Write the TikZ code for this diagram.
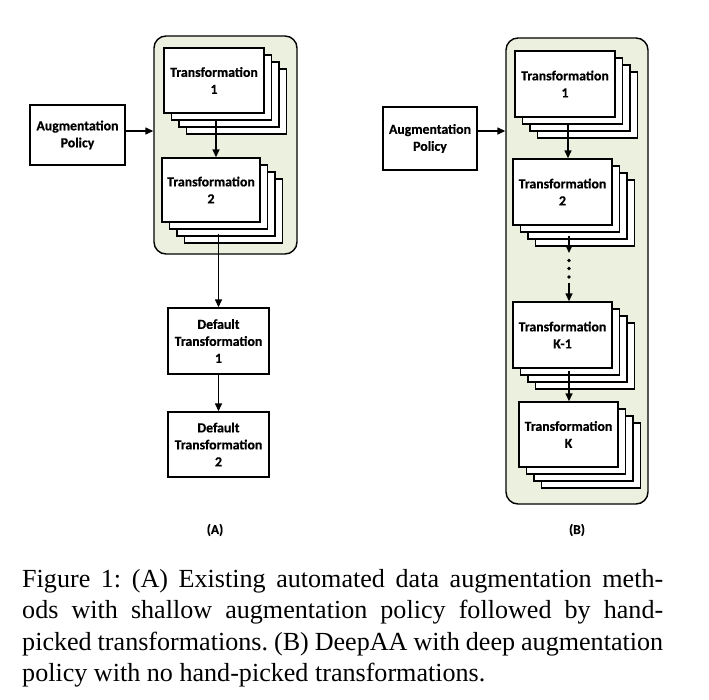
\documentclass[tikz,border=0pt]{standalone}
\usepackage{fontspec}
\setmainfont{Liberation Serif}
\newfontfamily\lblfont{Carlito Bold}[FakeBold=0.6]
\usetikzlibrary{arrows.meta,calc}
\definecolor{grn}{HTML}{EBF1DE}
\tikzset{
  tbox/.style={draw, fill=white, line width=1.4pt, inner sep=0pt, align=center,
    font=\lblfont\fontsize{13.8}{17}\selectfont},
  gbox/.style={draw, fill=grn, line width=1.4pt, rounded corners=12pt, inner sep=0pt},
  arr/.style={-{Triangle[length=8pt,width=7pt]}, line width=1.4pt},
  dotn/.style={circle, fill=black, inner sep=0pt, minimum size=3.8pt},
  panel/.style={font=\lblfont\fontsize{13.5}{15}\selectfont},
  capline/.style={anchor=base west, inner sep=0pt, font=\fontsize{26.1}{31.5}\selectfont\frenchspacing}
}
% name, cx, cy, w, h, text
\newcommand\tstack[6]{%
  \foreach \k in {3,2,1}{%
    \node[tbox, minimum width=#4pt, minimum height=#5pt] (#1-\k) at (#2+7.5*\k, #3+7*\k) {};
  }%
  \node[tbox, minimum width=#4pt, minimum height=#5pt] (#1) at (#2,#3) {#6};%
}
\begin{document}
\begin{tikzpicture}[x=1pt,y=-1pt]
\useasboundingbox (0,0) rectangle (709,699);

% green containers
\node[gbox, minimum width=143pt, minimum height=218pt] (GA) at (225.5,145) {};
\node[gbox, minimum width=142pt, minimum height=466pt] (GB) at (577,271) {};

% helper coordinates
\coordinate (ya) at (0,131);
\coordinate (xa1) at (216,0);
\coordinate (xa2) at (218.5,0);
\coordinate (xb1) at (568,0);
\coordinate (xb2) at (569,0);

% panel A
\node[tbox, minimum width=95pt, minimum height=60pt] (APA) at (77.5,135) {Augmentation\\Policy};
\tstack{A1}{214}{80.5}{100}{65}{Transformation\\1}
\tstack{A2}{211}{190}{98}{64}{Transformation\\2}
\node[tbox, minimum width=101pt, minimum height=66pt] (DA1) at (218.5,341) {Default\\Transformation\\1};
\node[tbox, minimum width=101pt, minimum height=65pt] (DA2) at (218.5,444.5) {Default\\Transformation\\2};

\draw[arr] (APA.east |- ya) -- (GA.west |- ya);
\draw[arr] (xa1 |- A1-1.south) -- (xa1 |- A2.north);
\draw[arr] (xa2 |- A2-1.south) ++(0,4) -- (DA1.north);
\draw[arr] (DA1.south) -- (DA2.north);

% panel B
\node[tbox, minimum width=94pt, minimum height=63pt] (APB) at (430,138.5) {Augmentation\\Policy};
\tstack{B1}{565}{84}{100}{66}{Transformation\\1}
\tstack{B2}{562.5}{192}{99}{66}{Transformation\\2}
\tstack{B3}{562.5}{335}{99}{66}{Transformation\\K-1}
\tstack{B4}{568.5}{434.5}{99}{65}{Transformation\\K}

\node[dotn] (d1) at (569,260.5) {};
\node[dotn] (d2) at (569,268.5) {};
\node[dotn] (d3) at (569,277) {};

\draw[arr] (APB.east |- ya) -- (GB.west |- ya);
\draw[arr] (xb1 |- B1-1.south) -- (xb1 |- B2.north);
\draw[arr] (xb2 |- B2-1.south) ++(0,3) -- (xb2 |- 0,253);
\draw[arr] (d3) ++(0,6) -- (xb2 |- B3.north);
\draw[arr] (xb2 |- B3.south) ++(0,2) -- (xb2 |- B4.north);

% panel labels
\node[panel] (LA) at (215,530) {(A)};
\node[panel] (LB) at (577,530) {(B)};

% caption
\node[capline] (c1) at (22,587) {\makebox[641pt][s]{Figure 1: (A) Existing automated data augmentation meth-}};
\node[capline] (c2) at (22,618.5) {\makebox[641pt][s]{ods with shallow augmentation policy followed by hand-}};
\node[capline] (c3) at (22,650) {\makebox[641pt][s]{picked transformations. (B) DeepAA with deep augmentation}};
\node[capline] (c4) at (22,681.5) {policy with no hand-picked transformations.};
\end{tikzpicture}
\end{document}
